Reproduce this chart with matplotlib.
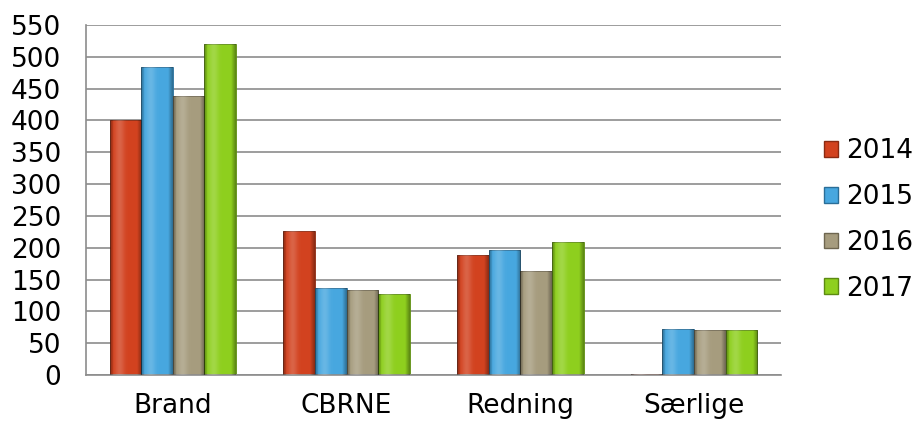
import numpy as np
import matplotlib
matplotlib.use("Agg")
import matplotlib.pyplot as plt
from matplotlib.patches import Patch

categories = ['Brand', 'CBRNE', 'Redning', 'Særlige']
years = ['2014', '2015', '2016', '2017']
v2014 = [400, 226, 188, 1]
v2015 = [484, 136, 196, 73]
v2016 = [439, 133, 163, 70]
v2017 = [520, 127, 209, 70]
y_ticks = list(range(0, 551, 50))

series = [v2014, v2015, v2016, v2017]
colors = ['#D2421F', '#47A7DF', '#A69C7E', '#8ECF1E']
edges = ['#8A2A12', '#2A6E98', '#6E6650', '#5C8A12']


def shade_bar(ax, bar):
    # crude bevel: dark edges, light stripe left of centre
    x0, y0 = bar.get_x(), bar.get_y()
    w, h = bar.get_width(), bar.get_height()
    if h <= 0:
        return
    t = np.linspace(0, 1, 64)
    alpha = np.where(t < 0.12, 0.35 * (1 - t / 0.12), 0.0)
    alpha = alpha + np.where(t > 0.85, 0.35 * (t - 0.85) / 0.15, 0.0)
    light = np.exp(-((t - 0.3) / 0.15) ** 2) * 0.18
    img = np.zeros((1, 64, 4))
    img[0, :, :3] = np.where((light > alpha)[:, None], 1.0, 0.0)
    img[0, :, 3] = np.maximum(alpha, light)
    im = ax.imshow(img, extent=[x0, x0 + w, y0, y0 + h], aspect='auto',
                   interpolation='bilinear', zorder=3)
    im.set_clip_path(bar)


fig = plt.figure(figsize=(9.13, 4.23), dpi=100)
ax = fig.add_axes([0.0942, 0.1135, 0.7612, 0.8275])

x = np.arange(len(categories))
width = 0.182
for i, vals in enumerate(series):
    bars = ax.bar(x + (i - 1.5) * width, vals, width, color=colors[i],
                  edgecolor=edges[i], linewidth=0.6, zorder=2)
    for b in bars:
        shade_bar(ax, b)

ax.set_xlim(-0.5, 3.5)
ax.set_ylim(0, 550)
ax.set_yticks(y_ticks)
ax.set_xticks(x)
ax.set_xticklabels(categories)
ax.tick_params(axis='both', length=0, labelsize=19)
ax.tick_params(axis='y', pad=18)
ax.tick_params(axis='x', pad=13)
ax.yaxis.grid(True, color='#8c8c8c', linewidth=1.2, zorder=0)
ax.set_axisbelow(True)
for s in ['top', 'right']:
    ax.spines[s].set_visible(False)
for s in ['left', 'bottom']:
    ax.spines[s].set_color('#8c8c8c')
    ax.spines[s].set_linewidth(1.2)

handles = [Patch(facecolor=colors[i], edgecolor=edges[i], label=years[i]) for i in range(4)]
fig.legend(handles=handles, loc='center left', bbox_to_anchor=(0.902, 0.48),
           frameon=False, fontsize=19, handlelength=0.55, handleheight=0.55,
           handletextpad=0.3, labelspacing=0.75, borderaxespad=0, borderpad=0)

fig.savefig('out.png', dpi=100)
